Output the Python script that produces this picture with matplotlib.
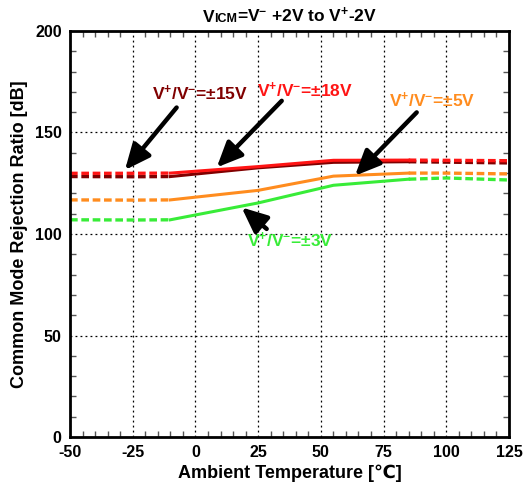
import matplotlib
matplotlib.use("Agg")
import matplotlib.pyplot as plt
import numpy as np
from matplotlib.offsetbox import TextArea, HPacker, AnchoredOffsetbox
from matplotlib.ticker import MultipleLocator

plt.rcParams['font.family'] = ['Liberation Sans', 'DejaVu Sans']
plt.rcParams['font.weight'] = 'bold'
plt.rcParams['axes.unicode_minus'] = False
plt.rcParams['mathtext.fontset'] = 'custom'
plt.rcParams['mathtext.rm'] = 'Liberation Sans:bold'
plt.rcParams['mathtext.it'] = 'Liberation Sans:bold'
plt.rcParams['mathtext.bf'] = 'Liberation Sans:bold'
plt.rcParams['mathtext.default'] = 'rm'

temps = [-50, -25, -10, 25, 55, 85, 100, 125]
cmrr_18v = [129.9, 129.9, 130.0, 133.2, 136.3, 136.4, 136.3, 136.1]
cmrr_15v = [128.3, 128.2, 128.3, 132.6, 135.3, 135.6, 135.4, 135.0]
cmrr_5v = [116.8, 116.7, 116.8, 121.5, 128.5, 130.0, 130.0, 129.6]
cmrr_3v = [107.0, 106.9, 107.0, 115.3, 124.0, 127.0, 127.6, 126.6]

labels = [
    r"V$^{+}$/V$^{-}$=$\pm$15V",
    r"V$^{+}$/V$^{-}$=$\pm$18V",
    r"V$^{+}$/V$^{-}$=$\pm$5V",
    r"V$^{+}$/V$^{-}$=$\pm$3V",
]
colors = ["#800000", "#ff1414", "#ff8c1e", "#38ec38"]
series = [cmrr_15v, cmrr_18v, cmrr_5v, cmrr_3v]

solid_lo, solid_hi = -10, 85

fig = plt.figure(figsize=(5.23, 4.90), dpi=100)
ax = fig.add_axes([70/523, 1-437/490, (509-70)/523, (437-31)/490])

t = np.array(temps, dtype=float)
for vals, col in zip(series, colors):
    v = np.array(vals, dtype=float)
    m_lo = t <= solid_lo
    m_mid = (t >= solid_lo) & (t <= solid_hi)
    m_hi = t >= solid_hi
    ax.plot(t[m_lo], v[m_lo], color=col, lw=2.4, dashes=(2.3, 1.1))
    ax.plot(t[m_mid], v[m_mid], color=col, lw=2.2)
    ax.plot(t[m_hi], v[m_hi], color=col, lw=2.4, dashes=(2.3, 1.1))

ax.set_xlim(-50, 125)
ax.set_ylim(0, 200)
ax.xaxis.set_major_locator(MultipleLocator(25))
ax.xaxis.set_minor_locator(MultipleLocator(5))
ax.yaxis.set_major_locator(MultipleLocator(50))
ax.yaxis.set_minor_locator(MultipleLocator(10))
ax.tick_params(which='both', direction='in', top=True, right=True, labelsize=11.5, width=1.0, colors='#555555', labelcolor='black')
ax.tick_params(which='major', length=0, pad=6)
ax.tick_params(which='minor', length=4)
ax.grid(True, which='major', color='black', ls=(0, (1.5, 2.5)), lw=0.9)
for s in ax.spines.values():
    s.set_linewidth(2.0)
for lbl in ax.get_xticklabels() + ax.get_yticklabels():
    lbl.set_fontweight('bold')

ax.set_xlabel("Ambient Temperature [\u2103]", fontsize=13, fontweight='bold', labelpad=3)
ax.set_ylabel("Common Mode Rejection Ratio [dB]", fontsize=13, fontweight='bold', labelpad=5)

# annotations: label position, arrow start, arrow tip
label_pos = [(1.8, 169.5), (43.7, 171.0), (94.3, 165.6), (37.7, 96.8)]
arrow_start = [(-7.5, 162.3), (34.4, 165.6), (88.2, 159.9), (28.4, 102.5)]
arrow_tip = [(-28.1, 131.5), (8.5, 132.8), (63.6, 128.7), (18.4, 113.1)]
for txt, col, tpos, start, tip in zip(labels, colors, label_pos, arrow_start, arrow_tip):
    ax.text(tpos[0], tpos[1], txt, color=col, fontsize=12.5, fontweight='bold', ha='center', va='center')
    ax.annotate("", xy=tip, xytext=start,
                arrowprops=dict(arrowstyle='-|>,head_length=0.9,head_width=0.4', lw=3.2, color='black', mutation_scale=17, shrinkA=0, shrinkB=0))

# title with small-caps ICM
tp = dict(fontweight='bold', color='black')
parts = [
    TextArea("V", textprops=dict(fontsize=12.5, **tp)),
    TextArea("ICM", textprops=dict(fontsize=9, **tp)),
    TextArea(r"=V$^{-}$ +2V to V$^{+}$-2V", textprops=dict(fontsize=12.5, **tp)),
]
box = HPacker(children=parts, align='baseline', pad=0, sep=0)
ab = AnchoredOffsetbox(loc='center', child=box, frameon=False, bbox_to_anchor=(290/523, 1-15/490), bbox_transform=fig.transFigure, borderpad=0, pad=0)
fig.add_artist(ab)

fig.savefig("out.png", dpi=100)
